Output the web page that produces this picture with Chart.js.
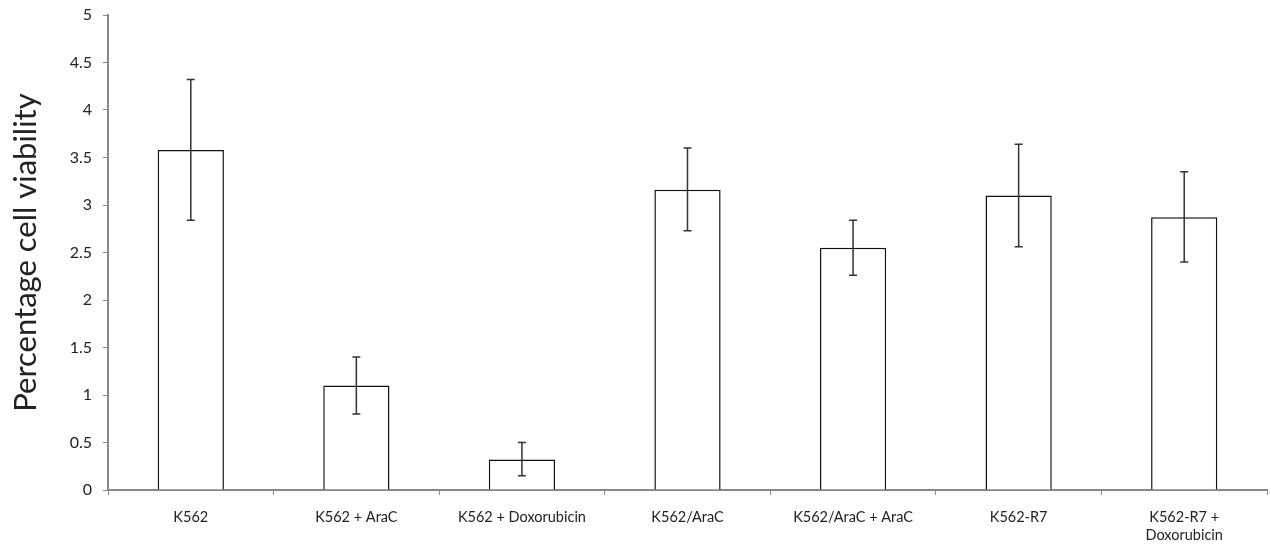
<!DOCTYPE html>
<html><head><meta charset="utf-8">
<script src="https://cdn.jsdelivr.net/npm/chart.js@4/dist/chart.umd.min.js"></script>
<style>html,body{margin:0;padding:0;background:#fff}#wrap{width:1271px;height:552px}</style>
</head><body><div id="wrap"><canvas id="c" width="1271" height="552"></canvas></div>
<script>
const categories = ["K562","K562 + AraC","K562 + Doxorubicin","K562/AraC","K562/AraC + AraC","K562-R7",["K562-R7 +","Doxorubicin"]];
const viability = [3.58, 1.10, 0.32, 3.16, 2.55, 3.10, 2.87];
const errHigh = [4.32, 1.40, 0.50, 3.60, 2.84, 3.64, 3.35];
const errLow = [2.84, 0.80, 0.15, 2.73, 2.26, 2.56, 2.40];
const yTicks = ["0","0.5","1","1.5","2","2.5","3","3.5","4","4.5","5"];

const errorBars = {
  id: 'errorBars',
  afterDatasetsDraw(chart) {
    const ctx = chart.ctx, x = chart.scales.x, y = chart.scales.y;
    ctx.save();
    ctx.strokeStyle = '#333';
    ctx.lineWidth = 1.5;
    viability.forEach((v, i) => {
      const cx = x.getPixelForValue(i);
      const yt = y.getPixelForValue(errHigh[i]), yb = y.getPixelForValue(errLow[i]);
      ctx.beginPath();
      ctx.moveTo(cx, yt); ctx.lineTo(cx, yb);
      ctx.moveTo(cx - 4, yt); ctx.lineTo(cx + 4, yt);
      ctx.moveTo(cx - 4, yb); ctx.lineTo(cx + 4, yb);
      ctx.stroke();
    });
    ctx.restore();
  }
};

new Chart(document.getElementById('c'), {
  type: 'bar',
  data: { labels: categories, datasets: [{ data: viability, backgroundColor: '#fff', borderColor: '#111', borderWidth: 1.5, barPercentage: 0.4, categoryPercentage: 1 }] },
  options: {
    responsive: false, animation: false,
    layout: { padding: { top: 15, right: 4, left: 0, bottom: 0 } },
    plugins: { legend: { display: false }, tooltip: { enabled: false } },
    scales: {
      x: {
        grid: { offset: true, drawOnChartArea: false, drawTicks: true, tickLength: 5, color: '#888', lineWidth: 1 },
        border: { color: '#888', width: 2 },
        ticks: { color: '#222', font: { family: 'Lato', size: 14.5 }, padding: 14, maxRotation: 0, autoSkip: false },
        afterFit(s) { s.height = 62; s.paddingLeft = 0; s.paddingRight = 0; }
      },
      y: {
        min: 0, max: 5,
        grid: { drawOnChartArea: false, drawTicks: true, tickLength: 5, color: '#888' },
        border: { color: '#888', width: 2 },
        ticks: { stepSize: 0.5, color: '#222', font: { family: 'Lato', size: 16 }, padding: 11,
          callback: (v, i) => yTicks[i] },
        title: { display: true, text: 'Percentage cell viability', color: '#222', font: { family: 'Lato', size: 31 }, padding: { top: 7, bottom: 10 } },
        afterFit(s) { s.width = 108; s.paddingTop = 0; s.paddingBottom = 0; }
      }
    }
  },
  plugins: [errorBars]
});
</script></body></html>
